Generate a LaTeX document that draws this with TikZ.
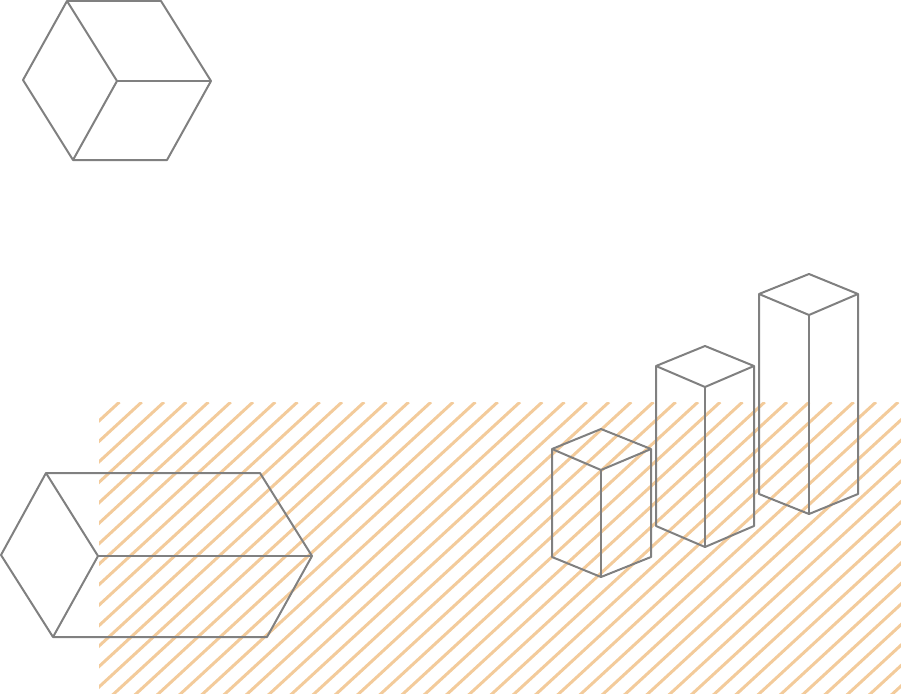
\documentclass[tikz,border=0pt]{standalone}
\definecolor{hatchcol}{RGB}{243,203,155}
\definecolor{edgecol}{RGB}{128,128,128}
\begin{document}
\begin{tikzpicture}[x=1pt,y=-1pt,edge/.style={edgecol,line width=2pt,line join=round},hatch/.style={hatchcol,line width=3pt}]
  \useasboundingbox (0,0) rectangle (901,693);
  % hatching
  \begin{scope}
    \clip (99,402) rectangle (901,693);
    \foreach \k in {0,...,50}
      \draw[hatch] ({119.5+22.25*\k},402) -- ++(-400,368);
  \end{scope}
  % big cube, top left
  \draw[edge] (67,1) -- (161,1) -- (211,81) -- (167,160) -- (73,160) -- (23,80) -- cycle;
  \draw[edge] (67,1) -- (117,81) -- (73,160);
  \draw[edge] (117,81) -- (211,81);
  % flat box, bottom left
  \draw[edge] (46,473) -- (260,473) -- (312,556) -- (267,637) -- (53,637) -- (1,555) -- cycle;
  \draw[edge] (46,473) -- (98,556) -- (53,637);
  \draw[edge] (98,556) -- (312,556);
  % three columns
  \draw[edge] (552,449) -- (601,429) -- (651,449) -- (651,557) -- (601,577) -- (552,557) -- cycle;
  \draw[edge] (552,449) -- (601,470) -- (651,449);
  \draw[edge] (601,470) -- (601,577);
  \draw[edge] (656,366) -- (705,346) -- (754,366) -- (754,526) -- (705,547) -- (656,526) -- cycle;
  \draw[edge] (656,366) -- (705,387) -- (754,366);
  \draw[edge] (705,387) -- (705,547);
  \draw[edge] (759,294) -- (809,274) -- (858,294) -- (858,494) -- (809,514) -- (759,494) -- cycle;
  \draw[edge] (759,294) -- (809,315) -- (858,294);
  \draw[edge] (809,315) -- (809,514);
\end{tikzpicture}
\end{document}
